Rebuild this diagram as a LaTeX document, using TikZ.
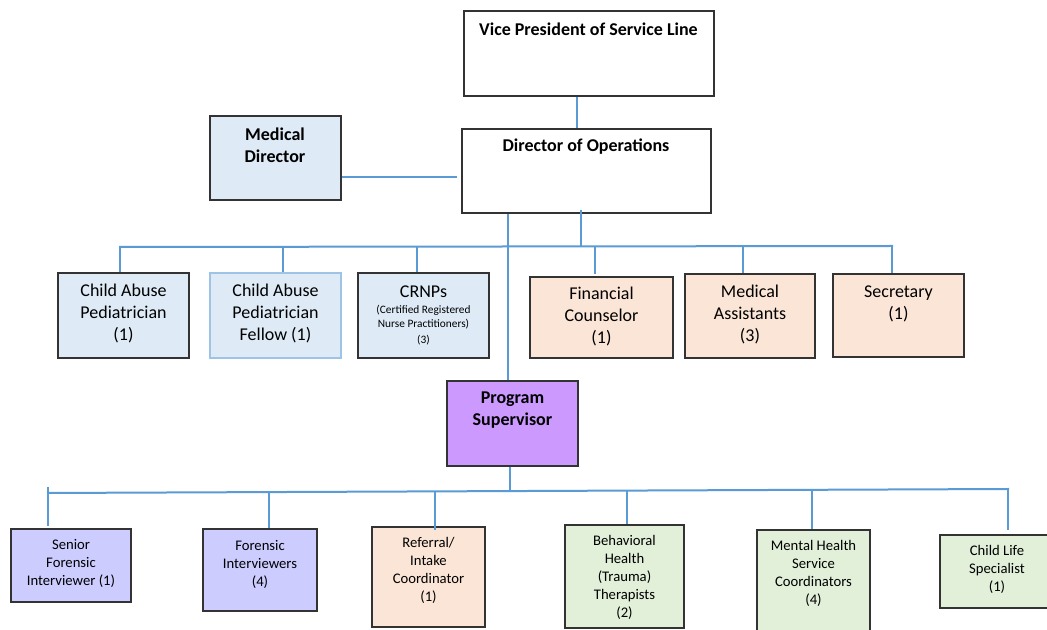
\documentclass[tikz,border=0pt]{standalone}
\usepackage{fontspec}
\setmainfont{Carlito}
\usetikzlibrary{fit}
\definecolor{conline}{HTML}{5B9BD5}
\definecolor{boxline}{HTML}{333333}
\definecolor{lblue}{HTML}{DEEBF7}
\definecolor{peach}{HTML}{FBE5D6}
\definecolor{purp}{HTML}{CC99FF}
\definecolor{lav}{HTML}{CCCCFF}
\definecolor{lgreen}{HTML}{E2F0D9}
\definecolor{pborder}{HTML}{9DC3E6}
\begin{document}
\begin{tikzpicture}[x=0.75pt,y=-0.75pt,
  box/.style={draw=boxline, line width=1.1pt, inner sep=0pt, rectangle},
  conn/.style={draw=conline, line width=1.5pt},
  big/.style={font=\fontsize{13.5}{16.5}\selectfont, align=center, inner sep=0pt},
  bigb/.style={font=\fontsize{13.5}{16.5}\selectfont\bfseries, align=center, inner sep=0pt},
  sml/.style={font=\fontsize{11}{13.5}\selectfont, align=center, inner sep=0pt},
  tiny/.style={font=\fontsize{8.5}{10.5}\selectfont, align=center, inner sep=0pt}]
\clip (0,0) rectangle (1047,630);
\fill[white] (0,0) rectangle (1047,630);
% boxes
\node[box, fill=white, fit={(464,11) (714,96)}] (vp) {};
\node[box, fill=white, fit={(462,129) (711,213)}] (do) {};
\node[box, fill=lblue, fit={(210,116) (341,200)}] (md) {};
\node[box, fill=lblue, fit={(58,273) (189,358)}] (cap) {};
\node[box, fill=lblue, draw=pborder, fit={(210,273) (341,358)}] (capf) {};
\node[box, fill=lblue, fit={(358,273) (489,358)}] (crnp) {};
\node[box, fill=peach, fit={(530,277) (673,358)}] (fc) {};
\node[box, fill=peach, fit={(685,274) (815,358)}] (ma) {};
\node[box, fill=peach, fit={(833,274) (964,357)}] (sec) {};
\node[box, fill=purp, fit={(447,381) (578,466)}] (ps) {};
\node[box, fill=lav, fit={(11,529) (131,602)}] (sfi) {};
\node[box, fill=lav, fit={(203,529) (317,611)}] (fi) {};
\node[box, fill=peach, fit={(372,527) (485,627)}] (ric) {};
\node[box, fill=lgreen, fit={(565,525) (684,628)}] (bht) {};
\node[box, fill=lgreen, fit={(757,530) (870,640)}] (mhsc) {};
\node[box, fill=lgreen, fit={(940,535) (1060,608)}] (cls) {};
% texts
\node[bigb] (vpT) at (588.5,29) {Vice President of Service Line};
\node[bigb] (doT) at (586,147) {Director of Operations};
\node[bigb] (mdT) at (275,145.5) {Medical\\Director};
\node[big] (capT) at (123.5,314) {Child Abuse\\Pediatrician\\(1)};
\node[big] (capfT) at (275.5,314) {Child Abuse\\Pediatrician\\Fellow (1)};
\node[big] (crnpT) at (423.5,292) {CRNPs};
\node[tiny] (crnpS) at (423.5,325) {(Certified Registered\\Nurse Practitioners)\\[2pt](3)};
\node[big] (fcT) at (601.5,317) {Financial\\Counselor\\(1)};
\node[big] (maT) at (750,315) {Medical\\Assistants\\(3)};
\node[big] (secT) at (898.5,303.5) {Secretary\\(1)};
\node[bigb] (psT) at (512.5,410.5) {Program\\Supervisor};
\node[sml] (sfiT) at (71,563) {Senior\\Forensic\\Interviewer (1)};
\node[sml] (fiT) at (260,564) {Forensic\\Interviewers\\(4)};
\node[sml] (ricT) at (428.5,570) {Referral/\\Intake\\Coordinator\\(1)};
\node[sml] (bhtT) at (624.5,577.5) {Behavioral\\Health\\(Trauma)\\Therapists\\(2)};
\node[sml] (mhscT) at (813.5,573.5) {Mental Health\\Service\\Coordinators\\(4)};
\node[sml] (clsT) at (997,569.5) {Child Life\\Specialist\\(1)};
% connectors top
\coordinate (c1) at (577,100);
\draw[conn] (vp.south -| c1) -- (do.north -| c1);
\coordinate (mdy) at (400,177);
\draw[conn] (md.east |- mdy) -- ([xshift=-3pt]do.west |- mdy);
\coordinate (b1L) at (119,247);
\coordinate (b1R) at (893,246);
\draw[conn] (b1L) -- (b1R);
\coordinate (d1) at (581,246.5);
\draw[conn] ([yshift=3pt]do.south -| d1) -- (d1);
\coordinate (k1) at (120,247);
\coordinate (k2) at (283,247);
\coordinate (k3) at (417,247);
\coordinate (k4) at (595,246.5);
\coordinate (k5) at (743,246.5);
\coordinate (k6) at (892,246);
\draw[conn] (k1) -- (cap.north -| k1);
\draw[conn] (k2) -- (capf.north -| k2);
\draw[conn] (k3) -- (crnp.north -| k3);
\draw[conn] (k4) -- ([yshift=2pt]fc.north -| k4);
\draw[conn] (k5) -- (ma.north -| k5);
\draw[conn] (k6) -- (sec.north -| k6);
\coordinate (p1) at (508,300);
\draw[conn] (do.south -| p1) -- (ps.north -| p1);
% bottom connectors
\coordinate (b2L) at (47,493);
\coordinate (b2R) at (1009,489);
\draw[conn] (b2L) -- (b2R);
\coordinate (p2) at (510,492);
\draw[conn] (ps.south -| p2) -- (p2);
\coordinate (m1) at (48,487);
\coordinate (m2) at (269,492);
\coordinate (m3) at (435,491);
\coordinate (m4) at (627,491);
\coordinate (m5) at (812,490);
\coordinate (m6) at (1008,489);
\draw[conn] (m1) -- ([yshift=1.5pt]sfi.north -| m1);
\draw[conn] (m2) -- (fi.north -| m2);
\draw[conn] (m3) -- ([yshift=-3pt]ric.north -| m3);
\draw[conn] (m4) -- (bht.north -| m4);
\draw[conn] (m5) -- (mhsc.north -| m5);
\draw[conn] (m6) -- ([yshift=3pt]cls.north -| m6);
\end{tikzpicture}
\end{document}
